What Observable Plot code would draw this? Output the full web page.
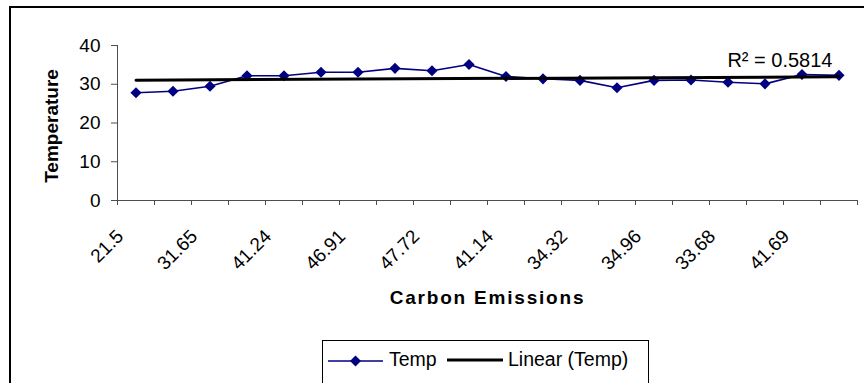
<!DOCTYPE html>
<html>
<head>
<meta charset="utf-8">
<script src="https://cdn.jsdelivr.net/npm/d3@7"></script>
<script src="https://cdn.jsdelivr.net/npm/@observablehq/plot@0.6"></script>
<style>
html, body { margin: 0; padding: 0; background: #fff; }
#wrap { position: relative; width: 864px; height: 383px; overflow: hidden; font-family: "Liberation Sans", Arial, sans-serif; }
#frame { position: absolute; left: 9px; top: 6px; width: 900px; height: 420px; border: 2px solid #000; box-sizing: border-box; }
#chart { position: absolute; left: 0; top: 0; }
#legend { position: absolute; left: 322px; top: 340px; width: 327px; height: 44px; border: 1px solid #000; background: #fff; box-sizing: border-box; font-size: 19.5px; line-height: 19.5px; color: #000; }
#legend .sw { position: absolute; }
#legend span { position: absolute; white-space: nowrap; }
</style>
</head>
<body>
<div id="wrap">
  <div id="frame"></div>
  <div id="chart"></div>
  <div id="legend"></div>
</div>
<script>
// ---- data ----
const categoryIndex = [1, 2, 3, 4, 5, 6, 7, 8, 9, 10, 11, 12, 13, 14, 15, 16, 17, 18, 19, 20];
const tempValues = [27.8, 28.2, 29.5, 32.2, 32.2, 33.1, 33.1, 34.1, 33.5, 35.1,
                    32.0, 31.4, 31.0, 29.1, 31.0, 31.1, 30.5, 30.1, 32.5, 32.3];
const labelIndex = [1, 3, 5, 7, 9, 11, 13, 15, 17, 19];
const tickLabels = ["21.5", "31.65", "41.24", "46.91", "47.72", "41.14", "34.32", "34.96", "33.68", "41.69"];
const yTicks = [0, 10, 20, 30, 40];
const seriesName = "Temp";
const trendName = "Linear (Temp)";
const r2Label = "R\u00B2 = 0.5814";
const xTitle = "Carbon Emissions";
const yTitle = "Temperature";

const data = categoryIndex.map((c, i) => ({x: c, temp: tempValues[i]}));
const boundaries = d3.range(0.5, categoryIndex.length + 1, 1);

const navy = "#000080";
const axisGray = "#4d4d4d";
const font = "'Liberation Sans', Arial, sans-serif";

const chart = Plot.plot({
  width: 864,
  height: 335,
  marginLeft: 117,
  marginRight: 7,
  marginTop: 45,
  marginBottom: 135,
  style: {fontFamily: font, fontSize: "19px", color: "#000", background: "transparent", overflow: "visible"},
  x: {type: "linear", domain: [0.5, categoryIndex.length + 0.5], axis: null},
  y: {domain: [0, 40], axis: null},
  marks: [
    Plot.ruleY([0], {stroke: axisGray}),
    Plot.ruleX([0.5], {stroke: axisGray}),
    Plot.axisY({ticks: yTicks, tickSize: 6, tickPadding: 11, stroke: axisGray, fill: "#000", fontSize: 19, label: null}),
    Plot.axisX({ticks: boundaries, tickSize: 5, tickFormat: () => "", stroke: axisGray, label: null}),
    Plot.line(data, {x: "x", y: "temp", stroke: navy, strokeWidth: 1.6}),
    Plot.dot(data, {x: "x", y: "temp", symbol: "diamond2", r: 5, fill: navy}),
    Plot.linearRegressionY(data, {x: "x", y: "temp", stroke: "#000", strokeWidth: 3, ci: 0}),
    Plot.text(labelIndex, {x: d => d, text: (d, i) => tickLabels[i], frameAnchor: "bottom",
      rotate: -45, textAnchor: "end", lineAnchor: "bottom", dx: -11.5, dy: 37, fontSize: 19, fill: "#000"}),
    Plot.text([xTitle], {text: d => d, frameAnchor: "bottom", textAnchor: "middle", lineAnchor: "middle",
      dy: 97, fontSize: 19, fontWeight: "bold", fill: "#000"}),
    Plot.text([yTitle], {text: d => d, frameAnchor: "left", textAnchor: "middle", lineAnchor: "middle",
      dx: -66, dy: 3, rotate: -90, fontSize: 19, fontWeight: "bold", fill: "#000"}),
    Plot.text([r2Label], {text: d => d, frameAnchor: "top-right", textAnchor: "end", lineAnchor: "middle",
      dx: -25, dy: 15.5, fontSize: 20, fill: "#000"})
  ]
});
// slight letter spacing on the x title, as in the reference
d3.select(chart).selectAll("text").filter(function() { return this.textContent === xTitle; })
  .style("letter-spacing", "1.8px");
document.getElementById("chart").appendChild(chart);

// ---- legend (HTML, below the plotting area) ----
const legend = document.getElementById("legend");
legend.innerHTML = `
  <svg class="sw" style="left:5px;top:9px" width="56" height="22">
    <line x1="0" x2="55" y1="11" y2="11" stroke="${navy}" stroke-width="1.5"></line>
    <path d="M27.5,5.5 L33,11 L27.5,16.5 L22,11 Z" fill="${navy}"></path>
  </svg>
  <span style="left:66px;top:9px">${seriesName}</span>
  <svg class="sw" style="left:124px;top:9px" width="57" height="22">
    <line x1="0" x2="56" y1="10" y2="10" stroke="#000" stroke-width="3"></line>
  </svg>
  <span style="left:185px;top:9px">${trendName}</span>
`;
</script>
</body>
</html>
